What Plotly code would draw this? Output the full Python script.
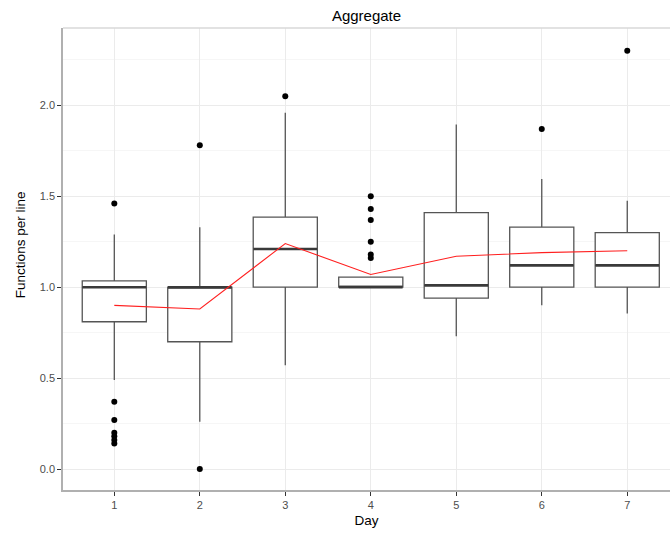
import plotly.graph_objects as go

# ---- data ----
days = [1, 2, 3, 4, 5, 6, 7]
day_labels = ["1", "2", "3", "4", "5", "6", "7"]
q1 = [0.81, 0.70, 1.00, 1.00, 0.94, 1.00, 1.00]
median = [1.00, 1.00, 1.21, 1.00, 1.01, 1.12, 1.12]
q3 = [1.035, 1.00, 1.385, 1.055, 1.41, 1.33, 1.30]
lower_whisker = [0.49, 0.26, 0.57, 1.00, 0.73, 0.90, 0.855]
upper_whisker = [1.29, 1.33, 1.96, 1.055, 1.895, 1.595, 1.475]
means = [0.90, 0.88, 1.24, 1.07, 1.17, 1.19, 1.20]

outlier_day = [1, 1, 1, 1, 1, 1, 1,
               2, 2,
               3,
               4, 4, 4, 4, 4, 4,
               6,
               7]
outlier_val = [1.46, 0.37, 0.27, 0.20, 0.18, 0.16, 0.14,
               1.78, 0.00,
               2.05,
               1.50, 1.43, 1.37, 1.25, 1.18, 1.16,
               1.87,
               2.30]

y_tickvals = [0.0, 0.5, 1.0, 1.5, 2.0]
y_ticktext = ["0.0", "0.5", "1.0", "1.5", "2.0"]
y_minor = [0.25, 0.75, 1.25, 1.75, 2.25]

FONT = "Liberation Sans, Arial, sans-serif"

fig = go.Figure()

fig.add_trace(go.Box(
    x=days, q1=q1, median=median, q3=q3,
    lowerfence=lower_whisker, upperfence=upper_whisker,
    width=0.75, whiskerwidth=0, boxpoints=False,
    fillcolor="white", line=dict(color="#555555", width=1.3),
    hoverinfo="skip",
))

# thicker median bar (ggplot style)
fig.add_trace(go.Scatter(
    x=days, y=median, mode="markers",
    marker=dict(symbol="line-ew", size=45.5,
                line=dict(width=2.6, color="#3a3a3a")),
    hoverinfo="skip",
))

fig.add_trace(go.Scatter(
    x=outlier_day, y=outlier_val, mode="markers",
    marker=dict(color="black", size=6),
))

fig.add_trace(go.Scatter(
    x=days, y=means, mode="lines",
    line=dict(color="#ff2020", width=1.1),
))

fig.update_layout(
    width=670, height=535,
    margin=dict(l=63, r=0, t=28, b=45),
    paper_bgcolor="white", plot_bgcolor="white",
    showlegend=False,
    font=dict(family=FONT, color="black"),
    title=dict(text="Aggregate", x=0.5, xref="paper", xanchor="center",
               y=1 - 16 / 535, yref="container", yanchor="middle",
               font=dict(size=15, color="black", family=FONT)),
    shapes=[dict(type="line", xref="paper", yref="paper", x0=0, x1=1, y0=1, y1=1,
                 line=dict(color="#d9d9d9", width=1.5))],
    annotations=[dict(text="Functions per line", textangle=-90,
                      xref="paper", yref="paper", x=-43 / 607, y=0.53,
                      xanchor="center", yanchor="middle", showarrow=False,
                      font=dict(size=13.5, color="black", family=FONT))],
)

fig.update_xaxes(
    range=[0.4, 7.5], tickmode="array", tickvals=days, ticktext=day_labels,
    ticks="outside", ticklen=4, tickcolor="#333333",
    tickfont=dict(size=11, color="#4d4d4d", family=FONT),
    showgrid=True, gridcolor="#ebebeb", zeroline=False,
    showline=True, linecolor="#b0b0b0", linewidth=1.5,
    title=dict(text="Day", font=dict(size=13.5, color="black", family=FONT), standoff=6),
)
fig.update_yaxes(
    range=[-0.1155, 2.4255], tickmode="array", tickvals=y_tickvals, ticktext=y_ticktext,
    ticks="outside", ticklen=4, tickcolor="#333333",
    tickfont=dict(size=11, color="#4d4d4d", family=FONT),
    showgrid=True, gridcolor="#ebebeb", zeroline=False,
    showline=True, linecolor="#b0b0b0", linewidth=1.5,
    minor=dict(tickvals=y_minor, showgrid=True, gridcolor="#f6f6f6", ticks=""),
)

fig.write_html("out.html")
